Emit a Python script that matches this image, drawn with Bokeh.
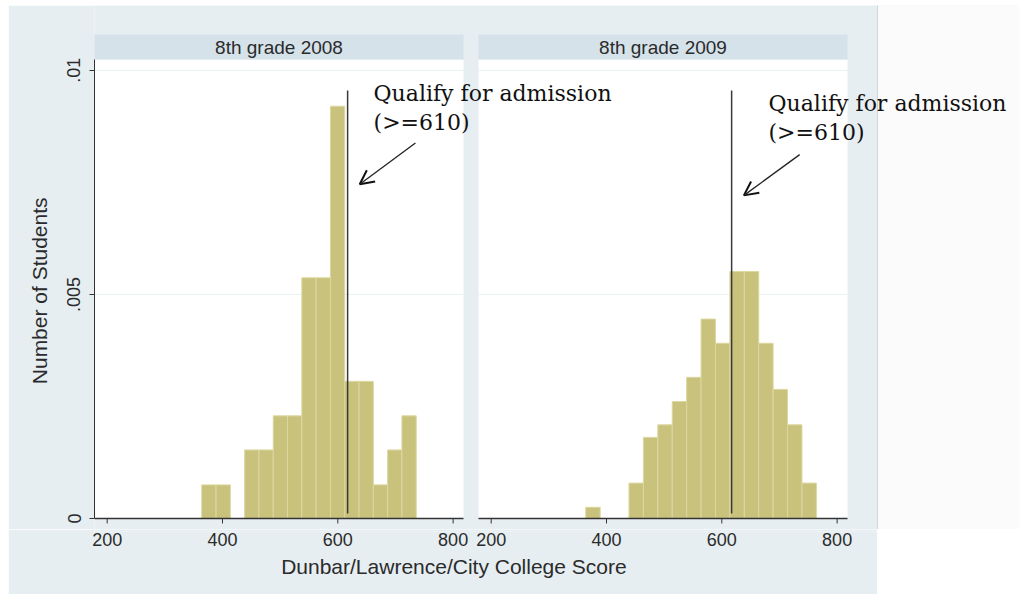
from bokeh.plotting import figure
from bokeh.models import (Range1d, FixedTicker, Label, Arrow, OpenHead, Spacer)
from bokeh.layouts import row, column
from bokeh.embed import file_html
from bokeh.resources import INLINE

# ---------------- data ----------------
panel_titles = ["8th grade 2008", "8th grade 2009"]
x_ticks = [200, 400, 600, 800]
y_ticks = [0, 0.005, 0.01]
y_tick_labels = ["0", ".005", ".01"]

edges_2008 = [364, 388.8, 413.6, 438.4, 463.2, 488, 512.8, 537.6, 562.4,
              587.2, 612, 636.8, 661.6, 686.4, 711.2, 736]
density_2008 = [0.00075, 0.00075, 0, 0.00153, 0.00153, 0.00229, 0.00229,
                0.00537, 0.00537, 0.0092, 0.00306, 0.00306, 0.00075,
                0.00153, 0.00229]

edges_2009 = [364, 389, 414, 439, 464, 489, 514, 539, 564, 589, 614, 639,
              664, 689, 714, 739, 764]
density_2009 = [0.00025, 0, 0, 0.00079, 0.00181, 0.00209, 0.00261, 0.00315,
                0.00445, 0.00391, 0.00551, 0.00551, 0.00391, 0.00288,
                0.00209, 0.00079]

qualify_score = 617
qualify_text = "Qualify for admission"
qualify_sub = "(>=610)"

# ---------------- layout constants (page pixels) ----------------
PAGE_W, PAGE_H = 1019, 594
PAGE_L, PAGE_T = 8, 5          # top-left corner of the grey-blue graph region
GRAPH_R = 877                  # right edge of the grey-blue graph region
FRAME_L = 94                   # left edge of the plotting area
ZERO_Y, TOP_Y = 518, 34        # page rows of y = 0 and of y = Y_TOP
SPLIT_Y = 529                  # boundary between the plot canvas and the x-axis canvas

X0 = 178            # left end of each panel in score units
SPAN = 640          # width of a panel in score units
GAP = 26            # gap between the panels in score units
OFFSET = SPAN + GAP  # shift of the second panel
X_END = 1536        # score units at the right edge of the graph region
Y_TOP = 0.0108      # density at the top of the panel headers
PANEL_TOP = 0.01024  # density at the bottom of the panel headers

UX = (X_END - X0) / (GRAPH_R - FRAME_L)   # score units per pixel
UY = Y_TOP / (ZERO_Y - TOP_Y)             # density per pixel
X_PAGE_END = X0 + (PAGE_W - FRAME_L) * UX
Y_HIGH = (ZERO_Y - PAGE_T) * UY
Y_LOW = -(SPLIT_Y - ZERO_Y) * UY
TICK_LEN = 5 * UY
PADX, PADY = 20 * UX, 20 * UY             # overshoot past the frame edges (clipped)

BG = "#e6eef2"
HEADER = "#d5e2ea"
GRID = "#e9f1f2"
BAR = "#c9c27c"
BAR_LINE = "#dcd7a0"
INK = "#2b2b2b"
AXIS = "#333333"
SANS = "Liberation Sans"
SERIF = "DejaVu Serif"
OUTSIDE = "#fbfbfb"
NBSP = "\u00a0"

# ---------------- main canvas: panels, y axis, notes ----------------
p = figure(width=PAGE_W - PAGE_L, height=SPLIT_Y - PAGE_T, output_backend="svg",
           toolbar_location=None, title=None,
           x_range=Range1d(X0, X_PAGE_END), y_range=Range1d(Y_LOW, Y_HIGH),
           x_axis_location=None,
           min_border_left=FRAME_L - PAGE_L, min_border_right=0,
           min_border_top=0, min_border_bottom=0)
p.border_fill_color = BG
p.background_fill_color = BG
p.outline_line_color = None
p.grid.visible = False

# page outside the grey-blue graph region
p.quad(left=[X_END], right=[X_PAGE_END + PADX], bottom=[Y_LOW - PADY], top=[Y_HIGH + PADY],
       fill_color=OUTSIDE, line_color=None)
p.segment(x0=[X_END], x1=[X_END], y0=[Y_LOW - PADY], y1=[Y_HIGH + PADY],
          line_color="#cfd5d8", line_width=1)

panel_left = [X0 - PADX, X0 + OFFSET]
panel_right = [X0 + SPAN, X0 + OFFSET + SPAN]

# white plot areas, headers and grid lines of the two panels
p.quad(left=panel_left, right=panel_right, bottom=[0, 0], top=[PANEL_TOP, PANEL_TOP],
       fill_color="white", line_color=None)
p.quad(left=panel_left, right=panel_right, bottom=[PANEL_TOP, PANEL_TOP], top=[Y_TOP, Y_TOP],
       fill_color=HEADER, line_color=None)
grid_vals = [v for v in y_ticks if v > 0]
p.segment(x0=[l for l in panel_left for _ in grid_vals],
          x1=[r for r in panel_right for _ in grid_vals],
          y0=grid_vals * 2, y1=grid_vals * 2, line_color=GRID, line_width=1)
for i, t in enumerate(panel_titles):
    p.add_layout(Label(x=X0 + SPAN / 2 + i * OFFSET, y=(PANEL_TOP + Y_TOP) / 2,
                       text=t, text_align="center", text_baseline="middle",
                       text_font=SANS, text_font_size="19px", text_color=INK))

# bars
for i, (edges, dens) in enumerate([(edges_2008, density_2008), (edges_2009, density_2009)]):
    p.quad(left=[e + i * OFFSET for e in edges[:-1]],
           right=[e + i * OFFSET for e in edges[1:]],
           bottom=0, top=dens, fill_color=BAR, line_color=BAR_LINE, line_width=1)

# x baselines and x tick marks of the two panels
p.segment(x0=[X0, X0 + OFFSET], x1=[X0 + SPAN, X0 + OFFSET + SPAN], y0=[0, 0], y1=[0, 0],
          line_color=AXIS, line_width=1.3)
tick_pos = x_ticks + [t + OFFSET for t in x_ticks]
p.segment(x0=tick_pos, x1=tick_pos, y0=[0] * len(tick_pos), y1=[-TICK_LEN] * len(tick_pos),
          line_color=AXIS, line_width=1)

# qualify lines, arrows, notes
text_pos = [(662, 0.00949, 0.00884), (681, 0.009265, 0.008618)]
arrow_pos = [(734.6, 0.00838, 638, 0.00746), (735, 0.00812, 638.3, 0.00721)]
for i in range(2):
    p.segment(x0=[qualify_score + i * OFFSET], x1=[qualify_score + i * OFFSET],
              y0=[0.00011], y1=[0.00955], line_color="#3a3a3a", line_width=1.5)
    tx, ty1, ty2 = text_pos[i]
    for txt, ty in [(qualify_text, ty1), (qualify_sub, ty2)]:
        p.add_layout(Label(x=tx + i * OFFSET, y=ty, text=txt, text_align="left",
                           text_baseline="alphabetic", text_font=SERIF,
                           text_font_size="22px", text_color="#111111"))
    xs, ys, xe, ye = arrow_pos[i]
    p.add_layout(Arrow(x_start=xs + i * OFFSET, y_start=ys, x_end=xe + i * OFFSET, y_end=ye,
                       line_color="#222222", line_width=1.3,
                       end=OpenHead(size=14, line_width=2, line_color="#111111")))

ya = p.yaxis[0]
ya.ticker = FixedTicker(ticks=y_ticks)
ya.major_label_overrides = {t: s for t, s in zip(y_ticks, y_tick_labels)}
ya.bounds = (0, PANEL_TOP)
ya.axis_line_color = AXIS
ya.major_tick_line_color = AXIS
ya.major_tick_out = 5
ya.major_tick_in = 0
ya.minor_tick_line_color = None
ya.major_label_orientation = "vertical"
ya.major_label_text_font = SANS
ya.major_label_text_font_size = "18px"
ya.major_label_text_color = INK
ya.major_label_standoff = 9
# trailing no-break spaces move the title to the middle of the white panel area
ya.axis_label = "Number of Students" + NBSP * 8
ya.axis_label_text_font = SANS
ya.axis_label_text_font_size = "21px"
ya.axis_label_text_font_style = "normal"
ya.axis_label_text_color = INK
ya.axis_label_standoff = 14

# ---------------- lower canvas: x tick labels and x title ----------------
b = figure(width=GRAPH_R - PAGE_L, height=PAGE_H - SPLIT_Y, output_backend="svg",
           toolbar_location=None, title=None,
           x_range=Range1d(X0, X_END), y_range=Range1d(0, 1),
           y_axis_location=None,
           min_border_left=FRAME_L - PAGE_L, min_border_right=0,
           min_border_top=0, min_border_bottom=PAGE_H - SPLIT_Y - 2)
b.border_fill_color = BG
b.background_fill_color = BG
b.outline_line_color = None
b.grid.visible = False

xa = b.xaxis[0]
xa.ticker = FixedTicker(ticks=tick_pos)
xa.major_label_overrides = {t: str(x_ticks[k % 4]) for k, t in enumerate(tick_pos)}
xa.axis_line_color = None
xa.major_tick_line_color = None
xa.major_tick_out = 0
xa.major_tick_in = 0
xa.minor_tick_line_color = None
xa.major_label_text_font = SANS
xa.major_label_text_font_size = "18px"
xa.major_label_text_color = INK
xa.major_label_standoff = 1
# trailing no-break spaces centre the title under the two panels
xa.axis_label = "Dunbar/Lawrence/City College Score" + NBSP * 11
xa.axis_label_text_font = SANS
xa.axis_label_text_font_size = "21px"
xa.axis_label_text_font_style = "normal"
xa.axis_label_text_color = INK
xa.axis_label_standoff = 6

layout = column(Spacer(height=PAGE_T, width=PAGE_W),
                row(Spacer(width=PAGE_L, height=SPLIT_Y - PAGE_T), p, spacing=0),
                row(Spacer(width=PAGE_L, height=PAGE_H - SPLIT_Y), b, spacing=0),
                spacing=0)

open("out.html", "w").write(file_html(layout, INLINE))
